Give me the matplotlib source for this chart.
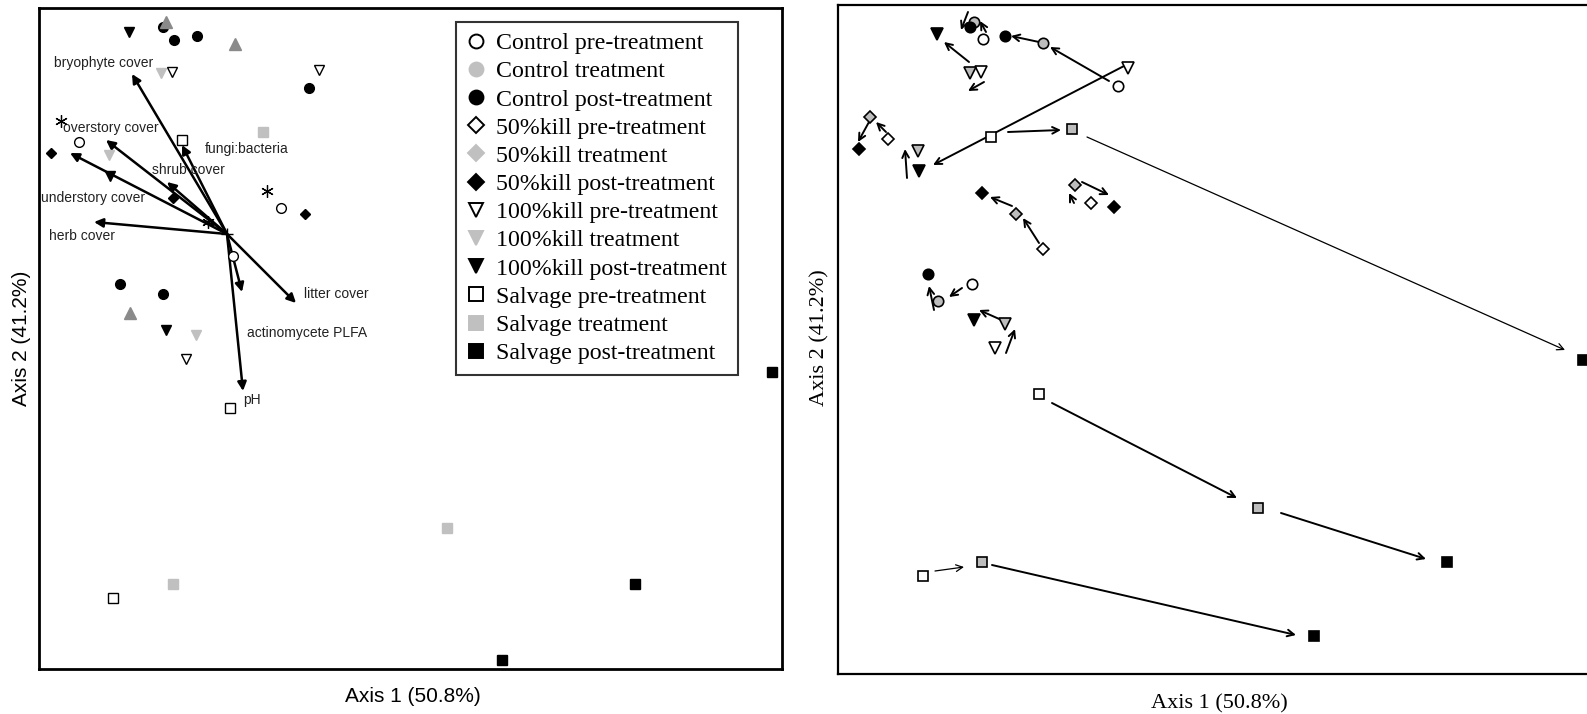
import matplotlib
matplotlib.use("Agg")
import matplotlib.pyplot as plt
from matplotlib.lines import Line2D

# ---------------------------------------------------------------- data
# Ordination scores (Axis 1, Axis 2) per treatment group, biplot panel
groups = [
    "Control pre-treatment", "Control treatment", "Control post-treatment",
    "50%kill pre-treatment", "50%kill treatment", "50%kill post-treatment",
    "100%kill pre-treatment", "100%kill treatment", "100%kill post-treatment",
    "Salvage pre-treatment", "Salvage treatment", "Salvage post-treatment",
]

bi_control_pre = [(-1.48, 0.92), (0.54, 0.26), (0.06, -0.22)]
bi_control_trt = []
bi_control_post = [(-0.64, 2.07), (-0.53, 1.94), (-0.30, 1.98), (0.82, 1.46),
                   (-1.07, -0.50), (-0.64, -0.60)]
bi_kill50_pre = []
bi_kill50_trt = []
bi_kill50_post = [(-1.76, 0.81), (-0.54, 0.36), (0.78, 0.20)]
bi_kill100_pre = [(-0.55, 1.62), (0.92, 1.64), (-0.41, -1.25)]
bi_kill100_trt = [(-0.66, 1.61), (-1.18, 0.79), (-0.31, -1.01)]
bi_kill100_post = [(-0.98, 2.02), (-1.17, 0.58), (-0.61, -0.96)]
bi_salvage_pre = [(-0.45, 0.94), (0.03, -1.74), (-1.14, -3.64)]
bi_salvage_trt = [(0.36, 1.02), (2.20, -2.94), (-0.54, -3.50)]
bi_salvage_post = [(5.45, -1.38), (4.08, -3.50), (2.75, -4.26)]
bi_other_tri = [(-0.61, 2.12), (0.08, 1.90), (-0.97, -0.79)]
bi_other_ast = [(-1.66, 1.13), (0.40, 0.43), (-0.19, 0.12)]

# Environmental vectors
env_names = ["bryophyte cover", "overstory cover", "understory cover", "shrub cover",
             "fungi:bacteria", "herb cover", "litter cover", "actinomycete PLFA", "pH"]
env_x = [-0.95, -1.21, -1.57, -0.60, -0.45, -1.33, 0.69, 0.15, 0.16]
env_y = [1.60, 0.94, 0.81, 0.52, 0.89, 0.12, -0.69, -0.58, -1.57]
env_label_x = [-1.73, -1.64, -1.86, -0.75, -0.22, -1.78, 0.77, 0.20, 0.16]
env_label_y = [1.71, 1.06, 0.36, 0.64, 0.85, -0.02, -0.60, -0.99, -1.66]

# Group centroids over time, trajectory panel
tr_control_pre = [(1.45, 6.35), (2.80, 5.88), (1.34, 3.90)]
tr_control_trt = [(1.36, 6.52), (2.05, 6.31), (1.00, 3.73)]
tr_control_post = [(1.32, 6.47), (1.67, 6.38), (0.90, 4.00)]
tr_kill50_pre = [(0.50, 5.35), (2.05, 4.25), (2.53, 4.71)]
tr_kill50_trt = [(0.32, 5.57), (1.78, 4.60), (2.37, 4.89)]
tr_kill50_post = [(0.21, 5.25), (1.44, 4.81), (2.76, 4.67)]
tr_kill100_pre = [(1.43, 6.02), (2.90, 6.06), (1.57, 3.26)]
tr_kill100_trt = [(1.32, 6.01), (0.80, 5.23), (1.67, 3.50)]
tr_kill100_post = [(0.99, 6.40), (0.81, 5.03), (1.36, 3.54)]
tr_salvage_pre = [(1.53, 5.37), (2.01, 2.80), (0.85, 0.98)]
tr_salvage_trt = [(2.34, 5.45), (4.20, 1.66), (1.44, 1.12)]
tr_salvage_post = [(7.45, 3.14), (6.09, 1.12), (4.76, 0.38)]

# Trajectory arrows: (tail, head, thin)
tr_arrows = [
    ((1.30, 6.62), (1.23, 6.44), False),
    ((1.48, 6.42), (1.42, 6.53), False),
    ((2.01, 6.32), (1.73, 6.38), False),
    ((2.71, 5.93), (2.12, 6.27), False),
    ((2.86, 6.08), (0.95, 5.09), False),
    ((1.31, 6.12), (1.06, 6.32), False),
    ((1.46, 5.92), (1.30, 5.83), False),
    ((0.31, 5.52), (0.20, 5.32), False),
    ((0.48, 5.42), (0.38, 5.52), False),
    ((0.69, 4.96), (0.67, 5.25), False),
    ((1.70, 5.42), (2.23, 5.44), False),
    ((2.49, 5.37), (7.27, 3.24), True),
    ((1.74, 4.68), (1.52, 4.77), False),
    ((2.01, 4.31), (1.85, 4.56), False),
    ((2.44, 4.92), (2.71, 4.79), False),
    ((2.36, 4.71), (2.31, 4.81), False),
    ((1.24, 3.86), (1.11, 3.77), False),
    ((0.96, 3.64), (0.91, 3.88), False),
    ((1.68, 3.52), (1.41, 3.64), False),
    ((1.68, 3.21), (1.77, 3.45), False),
    ((2.14, 2.71), (3.99, 1.76), False),
    ((4.43, 1.61), (5.88, 1.15), False),
    ((0.97, 1.03), (1.26, 1.07), True),
    ((1.54, 1.09), (4.58, 0.39), False),
]

# ---------------------------------------------------------------- styles
LIGHT = "#c0c0c0"
FILL = "#bdbdbd"
shapes = ["o", "o", "o", "D", "D", "D", "v", "v", "v", "s", "s", "s"]
faces = ["white", LIGHT, "black"] * 4
sizes = [7.5, 7.5, 7.5, 6.0, 6.0, 6.0, 8.0, 8.0, 8.0, 7.0, 7.0, 7.0]

fig = plt.figure(figsize=(15.87, 7.14), dpi=100)

# ---------------------------------------------------------------- biplot
ax1 = fig.add_axes([39 / 1587, 1 - 669 / 714, 743 / 1587, 661 / 714])
ax1.set_xlim(-1.88, 5.55)
ax1.set_ylim(-4.35, 2.26)
ax1.set_xticks([])
ax1.set_yticks([])
for s in ax1.spines.values():
    s.set_linewidth(2.0)

for i, nm in enumerate(env_names):
    ax1.annotate("", xy=(env_x[i], env_y[i]), xytext=(0, 0),
                 arrowprops=dict(arrowstyle="-|>", color="black", lw=1.8,
                                 mutation_scale=13, shrinkA=0, shrinkB=0),
                 zorder=3)
    ax1.text(env_label_x[i], env_label_y[i], nm, ha="left", va="center",
             fontsize=10, family="Liberation Sans", color="#222222", zorder=4)
ax1.plot([0], [0], marker="+", color="black", ms=8, mew=1.0, zorder=4)

bi_sets = [bi_control_pre, bi_control_trt, bi_control_post,
           bi_kill50_pre, bi_kill50_trt, bi_kill50_post,
           bi_kill100_pre, bi_kill100_trt, bi_kill100_post,
           bi_salvage_pre, bi_salvage_trt, bi_salvage_post]
for k, pts in enumerate(bi_sets):
    if not pts:
        continue
    xs = [p[0] for p in pts]
    ys = [p[1] for p in pts]
    face = faces[k]
    edge = "black" if face == "white" else face
    ax1.plot(xs, ys, ls="none", marker=shapes[k], ms=sizes[k] - 0.5,
             mfc=face, mec=edge, mew=1.0, zorder=5)
ax1.plot([p[0] for p in bi_other_tri], [p[1] for p in bi_other_tri], ls="none",
         marker="^", ms=8, mfc="#8a8a8a", mec="#8a8a8a", zorder=5)
ax1.plot([p[0] for p in bi_other_ast], [p[1] for p in bi_other_ast], ls="none",
         marker=(6, 2, 0), ms=9, mec="black", mew=0.9, zorder=5)

handles = []
for k in range(12):
    face = faces[k]
    edge = "black" if face == "white" else face
    handles.append(Line2D([], [], ls="none", marker=shapes[k],
                          ms=sizes[k] + 2.5 if shapes[k] != "D" else 8.5,
                          mfc=face, mec=edge, mew=1.4))
leg = ax1.legend(handles, groups, loc="upper left",
                 bbox_to_anchor=((455.7 - 39) / 743, 1 - (21.7 - 8) / 661),
                 borderaxespad=0, frameon=True, fancybox=False,
                 prop={"family": "Liberation Serif", "size": 17.2},
                 handlelength=0.8, handletextpad=0.45, labelspacing=0.27,
                 borderpad=0.45)
leg.get_frame().set_edgecolor("black")
leg.get_frame().set_linewidth(1.5)

fig.text(413 / 1587, 1 - 696 / 714, "Axis 1 (50.8%)", ha="center", va="center",
         fontsize=15, family="Liberation Sans")
fig.text(22 / 1587, 1 - 338 / 714, "Axis 2 (41.2%)", ha="center", va="center",
         rotation=90, fontsize=15, family="Liberation Sans")

# ---------------------------------------------------------------- trajectories
ax2 = fig.add_axes([838 / 1587, 1 - 674 / 714, 763 / 1587, 669 / 714])
ax2.set_xlim(0, 7.63)
ax2.set_ylim(0, 6.69)
ax2.set_xticks([])
ax2.set_yticks([])
for s in ax2.spines.values():
    s.set_linewidth(1.6)

for tail, head, thin in tr_arrows:
    ax2.annotate("", xy=head, xytext=tail,
                 arrowprops=dict(arrowstyle="->", color="black",
                                 lw=0.9 if thin else 1.4,
                                 mutation_scale=12, shrinkA=0, shrinkB=0),
                 zorder=3)

tr_sets = [tr_control_pre, tr_control_trt, tr_control_post,
           tr_kill50_pre, tr_kill50_trt, tr_kill50_post,
           tr_kill100_pre, tr_kill100_trt, tr_kill100_post,
           tr_salvage_pre, tr_salvage_trt, tr_salvage_post]
tr_faces = ["white", FILL, "black"] * 4
for k, pts in enumerate(tr_sets):
    ax2.plot([p[0] for p in pts], [p[1] for p in pts], ls="none",
             marker=shapes[k], ms=sizes[k], mfc=tr_faces[k], mec="black",
             mew=1.2, zorder=5)

fig.text(1219.5 / 1587, 1 - 704 / 714, "Axis 1 (50.8%)", ha="center", va="center",
         fontsize=16, family="Liberation Serif")
fig.text(820 / 1587, 1 - 338 / 714, "Axis 2 (41.2%)", ha="center", va="center",
         rotation=90, fontsize=16, family="Liberation Serif")

fig.savefig("out.png", dpi=100)
